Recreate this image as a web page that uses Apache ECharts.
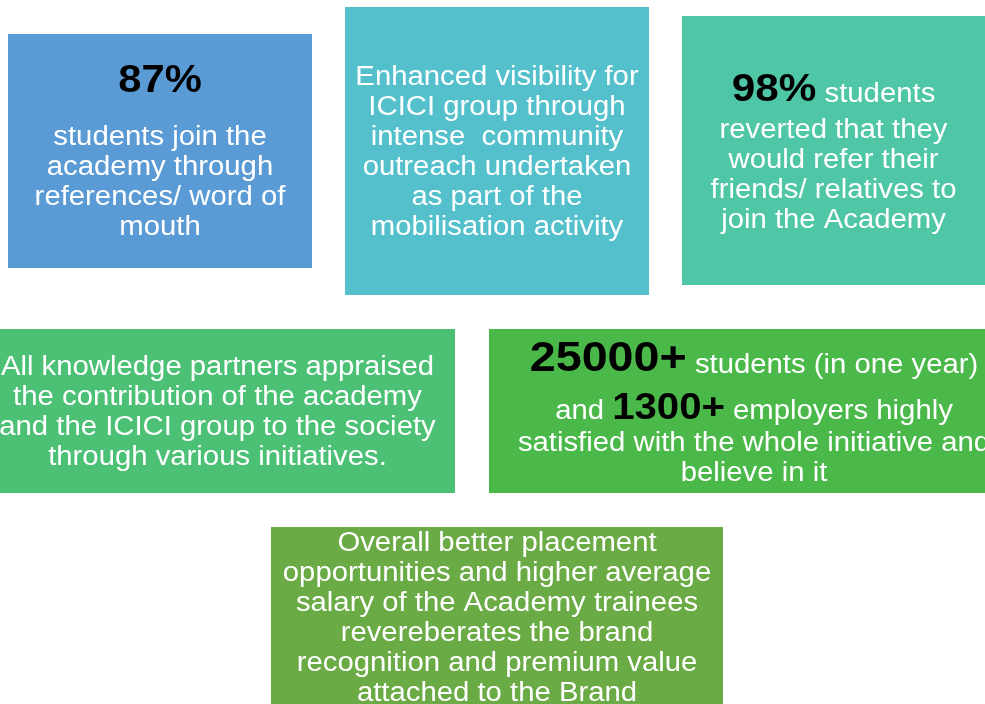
<!DOCTYPE html>
<html>
<head>
<meta charset="utf-8">
<script src="https://cdn.jsdelivr.net/npm/echarts@6/dist/echarts.min.js"></script>
<style>
  html, body { margin: 0; padding: 0; background: #fff; }
  #chart { width: 985px; height: 704px; }
</style>
</head>
<body>
<div id="chart"></div>
<script>
// one entry per box: label lines (rich markup) and the box extent in page units
const boxNames = ['referrals', 'visibility', 'referIntent', 'partners', 'reach', 'placement'];
const boxLines = [
  ['{num|87%}', 'students join the', 'academy through', 'references/ word of', 'mouth'],
  ['Enhanced visibility for', 'ICICI group through', 'intense  community', 'outreach undertaken', 'as part of the', 'mobilisation activity'],
  ['{num|98%}{txs| students}', 'reverted that they', 'would refer their', 'friends/ relatives to', 'join the Academy'],
  ['All knowledge partners appraised', 'the contribution of the academy', 'and the ICICI group to the society', 'through various initiatives.'],
  ['{num|25000+}{txs| students (in one year)}', '{txs|and }{num2|1300+}{txs| employers highly}', 'satisfied with the whole initiative and', 'believe in it'],
  ['Overall better placement', 'opportunities and higher average', 'salary of the Academy trainees', 'revereberates the brand', 'recognition and premium value', 'attached to the Brand']
];
const boxLeft = [8, 345, 682, 0, 489, 271];
const boxRight = [312, 649, 985, 455, 985, 723];
const boxTop = [34, 7, 16, 329, 329, 527];
const boxBottom = [268, 295, 285, 493, 493, 707];

const FONT = "'Liberation Sans', Arial, sans-serif";
const STRETCH = 1.085; // the source lettering is a little wide
const boxColors = ['#5b9bd5', '#53c0cc', '#4fc6a5', '#4cc175', '#4bb94a', '#6aab45'];
// big number style per box: [fontSize, lineHeight, verticalAlign, bottom padding]
const numStyle = [
  [38.5, 80, 'middle', 0],
  [38, 40, 'bottom', 0],
  [39, 47, 'bottom', 4],
  [38, 40, 'bottom', 0],
  [43, 46, 'bottom', 0],
  [38, 40, 'bottom', 0]
];
const textShift = [[0, -10], [0, 0], [0, 0], [-10, 0], [17, 0], [0, 0]];

const chart = echarts.init(document.getElementById('chart'), null, { renderer: 'canvas' });

const seriesData = boxNames.map((name, i) => ({
  name: name,
  value: [boxLeft[i], boxTop[i], boxRight[i], boxBottom[i], i]
}));

function markup(line) {
  return line.charAt(0) === '{' ? line : '{txt|' + line + '}';
}

function richFor(i) {
  const s = numStyle[i];
  return {
    txt: { fontFamily: FONT, fontSize: 27, lineHeight: 30, fill: '#fff', verticalAlign: 'bottom' },
    // plain words sharing a line with a bold number: lifted to sit on its baseline
    txs: { fontFamily: FONT, fontSize: 27, lineHeight: 30, fill: '#fff', verticalAlign: 'bottom', padding: [0, 0, s[3] + 2, 0] },
    num: { fontFamily: FONT, fontSize: s[0], lineHeight: s[1], fontWeight: 'bold', fill: '#000', verticalAlign: s[2], padding: [0, 0, s[3], 0] },
    num2: { fontFamily: FONT, fontSize: 37, lineHeight: 46, fontWeight: 'bold', fill: '#000', verticalAlign: 'bottom' }
  };
}

const option = {
  animation: false,
  grid: { left: 0, right: 0, top: 0, bottom: 0 },
  xAxis: { type: 'value', min: 0, max: 985, show: false },
  yAxis: { type: 'value', min: 0, max: 704, inverse: true, show: false },
  series: [{
    type: 'custom',
    coordinateSystem: 'cartesian2d',
    data: seriesData,
    renderItem: function (params, api) {
      const i = api.value(4);
      const p0 = api.coord([api.value(0), api.value(1)]);
      const p1 = api.coord([api.value(2), api.value(3)]);
      const cx = (p0[0] + p1[0]) / 2 + textShift[i][0];
      const cy = (p0[1] + p1[1]) / 2 + textShift[i][1];
      return {
        type: 'group',
        children: [
          {
            type: 'rect',
            shape: { x: p0[0], y: p0[1], width: p1[0] - p0[0], height: p1[1] - p0[1] },
            style: { fill: boxColors[i] }
          },
          {
            type: 'text',
            x: cx,
            y: cy,
            scaleX: STRETCH,
            style: {
              text: boxLines[i].map(markup).join('\n'),
              x: 0,
              y: 0,
              align: 'center',
              verticalAlign: 'middle',
              fill: '#fff',
              rich: richFor(i)
            }
          }
        ]
      };
    }
  }]
};

chart.setOption(option);
</script>
</body>
</html>
